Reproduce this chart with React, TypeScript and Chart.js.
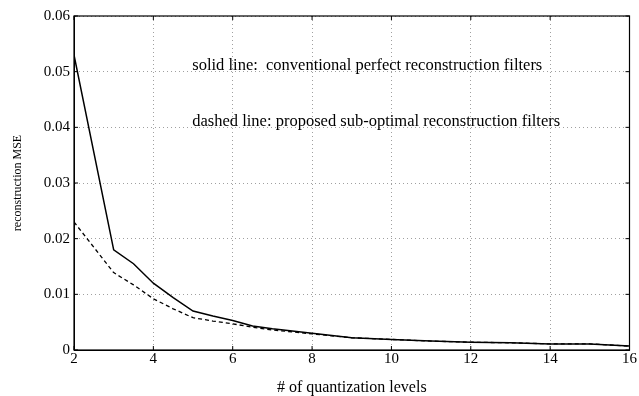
import React, { useEffect, useRef } from "react";
import { Chart, registerables } from "chart.js";

Chart.register(...registerables);

const levels = [2, 3, 3.5, 4, 4.5, 5, 5.5, 6, 6.5, 7, 8, 9, 10, 11, 12, 13, 14, 15, 16];
const solidMSE = [0.053, 0.018, 0.0155, 0.012, 0.0094, 0.007, 0.0061, 0.0053, 0.0043, 0.0038, 0.003, 0.0022, 0.0019, 0.0016, 0.0014, 0.0013, 0.0011, 0.0011, 0.0007];
const dashedMSE = [0.023, 0.0139, 0.0117, 0.0092, 0.0074, 0.0058, 0.0052, 0.0047, 0.0041, 0.0036, 0.0029, 0.0022, 0.0019, 0.0016, 0.0014, 0.0013, 0.0011, 0.0011, 0.0007];
const xTicks = [2, 4, 6, 8, 10, 12, 14, 16];
const yTicks = [0, 0.01, 0.02, 0.03, 0.04, 0.05, 0.06];
const notes = [
  "solid line:  conventional perfect reconstruction filters",
  "dashed line: proposed sub-optimal reconstruction filters",
];
const xTitle = "# of quantization levels";
const yTitle = "reconstruction MSE";

const SERIF = "'Liberation Serif', 'Times New Roman', serif";

const framePlugin = {
  id: "frame",
  afterDatasetsDraw(chart: any) {
    const { ctx, chartArea } = chart;
    const { left, right, top, bottom } = chartArea;
    ctx.save();
    ctx.strokeStyle = "#000";
    ctx.lineWidth = 1.2;
    ctx.strokeRect(left, top, right - left, bottom - top);
    const xs = chart.scales.x;
    const ys = chart.scales.y;
    ctx.lineWidth = 1;
    ctx.beginPath();
    xTicks.forEach((v) => {
      const px = xs.getPixelForValue(v);
      ctx.moveTo(px, bottom);
      ctx.lineTo(px, bottom - 4);
      ctx.moveTo(px, top);
      ctx.lineTo(px, top + 4);
    });
    yTicks.forEach((v) => {
      const py = ys.getPixelForValue(v);
      ctx.moveTo(left, py);
      ctx.lineTo(left + 4, py);
      ctx.moveTo(right, py);
      ctx.lineTo(right - 4, py);
    });
    ctx.stroke();
    ctx.fillStyle = "#000";
    ctx.font = `16.5px ${SERIF}`;
    ctx.textBaseline = "middle";
    ctx.textAlign = "left";
    const tx = xs.getPixelForValue(4.98);
    ctx.fillText(notes[0], tx, ys.getPixelForValue(0.0511));
    ctx.fillText(notes[1], tx, ys.getPixelForValue(0.0411));
    ctx.restore();
  },
};

export default function App() {
  const ref = useRef<HTMLCanvasElement>(null);
  useEffect(() => {
    if (!ref.current) return;
    const chart = new Chart(ref.current, {
      type: "line",
      data: {
        datasets: [
          {
            label: "solid",
            data: levels.map((x, i) => ({ x, y: solidMSE[i] })),
            borderColor: "#000",
            borderWidth: 1.5,
            pointRadius: 0,
            tension: 0,
            fill: false,
          },
          {
            label: "dashed",
            data: levels.map((x, i) => ({ x, y: dashedMSE[i] })),
            borderColor: "#000",
            borderWidth: 1.3,
            borderDash: [4, 3],
            pointRadius: 0,
            tension: 0,
            fill: false,
          },
        ],
      },
      options: {
        animation: false,
        responsive: false,
        maintainAspectRatio: false,
        layout: { padding: { top: 16, right: 6, left: 0, bottom: 0 } },
        plugins: { legend: { display: false }, tooltip: { enabled: false } },
        scales: {
          x: {
            type: "linear",
            min: 2,
            max: 16,
            afterFit: (s: any) => {
              s.height = 46;
            },
            afterBuildTicks: (s: any) => {
              s.ticks = xTicks.map((v) => ({ value: v }));
            },
            ticks: {
              color: "#000",
              font: { family: SERIF, size: 15, lineHeight: 1.0 },
              padding: 2,
              maxRotation: 0,
              callback: (v: any) => String(v),
            },
            grid: { color: "#888", lineWidth: 0.8, drawTicks: false },
            border: { display: true, color: "#000", dash: [1, 3] },
            title: {
              display: true,
              text: xTitle,
              color: "#000",
              font: { family: SERIF, size: 16, lineHeight: 1.0 },
              padding: { top: 0, bottom: 0 },
            },
          },
          y: {
            type: "linear",
            min: 0,
            max: 0.06,
            afterFit: (s: any) => {
              s.width = 74;
            },
            afterBuildTicks: (s: any) => {
              s.ticks = yTicks.map((v) => ({ value: v }));
            },
            ticks: {
              color: "#000",
              font: { family: SERIF, size: 15 },
              padding: 4,
              callback: (v: any) => (v === 0 ? "0" : Number(v).toFixed(2)),
            },
            grid: { color: "#888", lineWidth: 0.8, drawTicks: false },
            border: { display: true, color: "#000", dash: [1, 3] },
            title: {
              display: true,
              text: yTitle,
              color: "#000",
              font: { family: SERIF, size: 12, lineHeight: 1.2 },
              padding: { top: 11, bottom: 0 },
            },
          },
        },
      },
      plugins: [framePlugin],
    });
    return () => chart.destroy();
  }, []);
  return (
    <div style={{ position: "fixed", left: 0, top: 0, width: 639, height: 396, background: "#fff" }}>
      <canvas ref={ref} width={639} height={396} style={{ width: 639, height: 396, display: "block" }} />
    </div>
  );
}
